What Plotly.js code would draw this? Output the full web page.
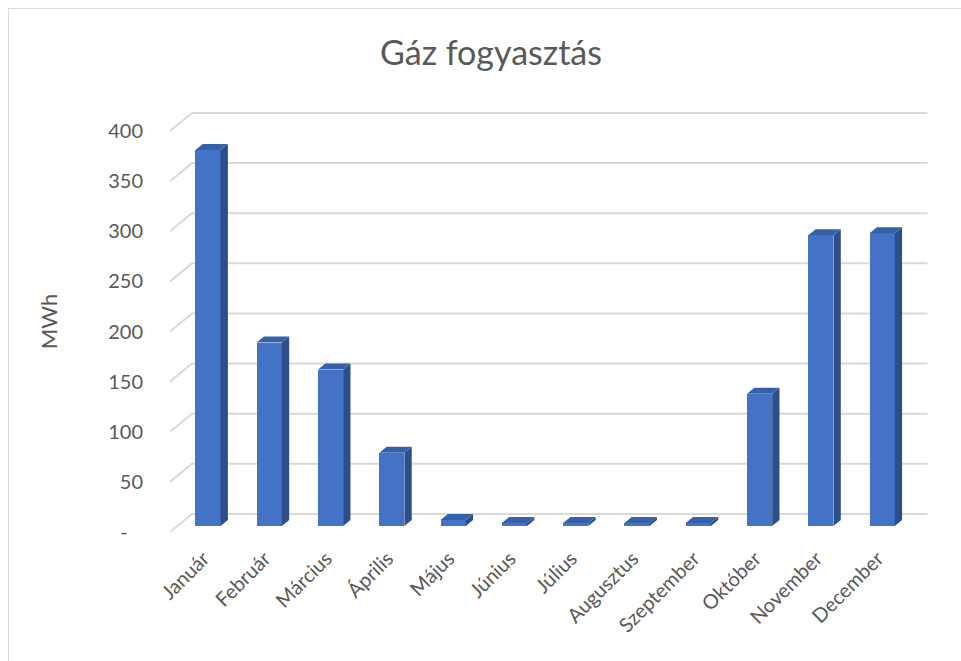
<!DOCTYPE html>
<html>
<head>
<meta charset="utf-8">
<script src="https://cdn.plot.ly/plotly-3.0.1.min.js"></script>
<style>
html,body{margin:0;padding:0;background:#fff;}
#wrap{position:relative;width:961px;height:661px;overflow:hidden;}
#chart{width:961px;height:661px;}
#frame{position:absolute;left:8px;top:8px;width:1000px;height:700px;border:1px solid #D9D9D9;pointer-events:none;}
</style>
</head>
<body>
<div id="wrap"><div id="chart"></div><div id="frame"></div></div>
<script>
// ---- data ----
const months = ['Január','Február','Március','Április','Május','Június','Július','Augusztus','Szeptember','Október','November','December'];
const gas = [375, 183, 156, 73, 6, 3, 3, 3, 3, 132, 290, 292];
const yTicks = [0, 50, 100, 150, 200, 250, 300, 350, 400];
const yTickText = ['-\u00a0\u00a0\u00a0', '50', '100', '150', '200', '250', '300', '350', '400'];

// ---- 3D depth (in axis units) ----
const DX = 0.359;   // full depth in x units
const DY = 18;      // full depth in y units
const W = 0.41;     // bar width
const fx = DX/3, fy = DY/3;   // bar front plane offset
const bx = DX/3, by = DY/3;   // bar depth

const idx = months.map((m,i)=>i);

// gridlines (left wall diagonal + back wall), drawn below the bars
const shapes = [];
yTicks.forEach(t=>{
  shapes.push({type:'path', xref:'x', yref:'y', layer:'below',
    path:`M${-0.5},${t} L${-0.5+DX},${t+DY} L${11.5+DX},${t+DY}`,
    line:{color:'#D9D9D9', width:2}});
});

// side and top faces
const sx = [], sy = [], tx = [], ty = [];
gas.forEach((v,i)=>{
  const xl = i + fx - W/2, xr = i + fx + W/2;
  sx.push(xr, xr+bx, xr+bx, xr, xr, null);
  sy.push(fy, fy+by, v+fy+by, v+fy, fy, null);
  tx.push(xl, xl+bx, xr+bx, xr, xl, null);
  ty.push(v+fy, v+fy+by, v+fy+by, v+fy, v+fy, null);
});

const font = "Lato, 'Open Sans', sans-serif";
const txt = '#595959';

const traces = [
  {type:'bar', x:idx.map(i=>i+fx), y:gas, base:fy, width:W, marker:{color:'#4472C4', line:{width:0}}, showlegend:false, name:'Gáz fogyasztás'},
  {type:'scatter', mode:'lines', x:sx, y:sy, fill:'toself', fillcolor:'#2D4E8A', line:{width:0, color:'#2D4E8A'}, hoverinfo:'skip', showlegend:false},
  {type:'scatter', mode:'lines', x:tx, y:ty, fill:'toself', fillcolor:'#3560AA', line:{width:0, color:'#3560AA'}, hoverinfo:'skip', showlegend:false}
];

const layout = {
  width:961, height:661,
  margin:{l:170, r:30.5, t:111, b:129, autoexpand:false},
  paper_bgcolor:'#fff', plot_bgcolor:'rgba(0,0,0,0)',
  font:{family:font, color:txt},
  title:{text:'Gáz fogyasztás', font:{size:34, color:txt, family:font}, x:491/961, xref:'container', xanchor:'center', y:1-53/661, yref:'container', yanchor:'middle'},
  xaxis:{range:[-0.5, 11.9], tickvals:idx, ticktext:months, tickangle:-45, showgrid:false, zeroline:false, showline:false,
         ticks:'', ticklabelstandoff:10, ticklabelshift:3, tickfont:{size:20, color:txt}, fixedrange:true, automargin:false},
  yaxis:{range:[0, 420], tickvals:yTicks, ticktext:yTickText, showgrid:false, zeroline:false, showline:false,
         ticks:'', ticklabelstandoff:26, tickfont:{size:20, color:txt}, fixedrange:true, automargin:false,
         title:{text:'MWh', font:{size:22, color:txt}, standoff:44}},
  shapes:shapes,
  bargap:0
};

Plotly.newPlot('chart', traces, layout, {displayModeBar:false, staticPlot:true});
</script>
</body>
</html>
